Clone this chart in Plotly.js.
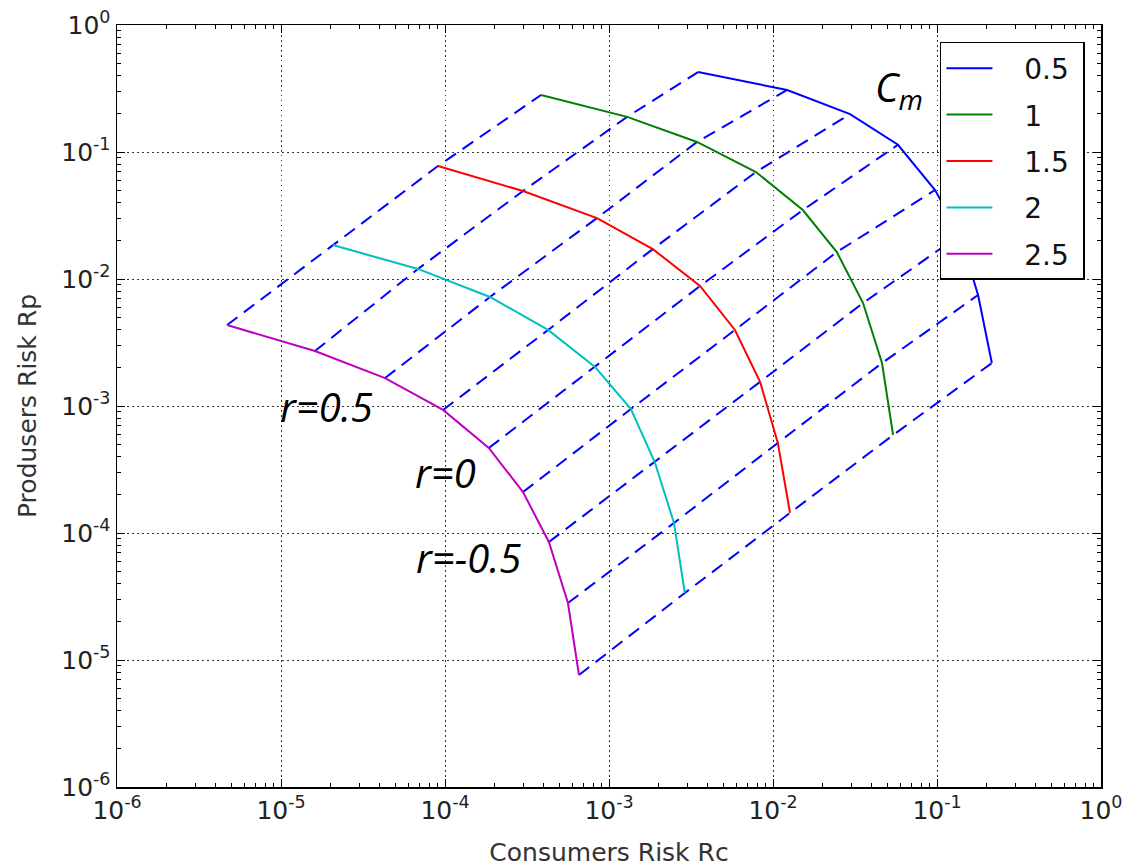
<!DOCTYPE html>
<html>
<head>
<meta charset="utf-8">
<script src="https://cdn.plot.ly/plotly-3.0.1.min.js"></script>
<style>html,body{margin:0;padding:0;background:#fff;}#chart{width:1127px;height:868px;}</style>
</head>
<body>
<div id="chart"></div>
<script>
// Series labels (Cm values)
const cmLabels = ['0.5', '1', '1.5', '2', '2.5'];
const cmColors = ['#0000ff', '#008000', '#ff0000', '#00bfbf', '#bf00bf'];

// Cm = 0.5
const rc05 = [3.49e-3, 1.22e-2, 2.95e-2, 5.78e-2, 9.73e-2, 0.138, 0.178, 0.216];
const rp05 = [0.426, 0.308, 0.199, 0.114, 5.02e-2, 2.22e-2, 7.48e-3, 2.18e-3];
// Cm = 1
const rc10 = [3.85e-4, 1.29e-3, 3.44e-3, 7.87e-3, 1.52e-2, 2.45e-2, 3.54e-2, 4.62e-2, 5.40e-2];
const rp10 = [0.281, 0.189, 0.120, 6.96e-2, 3.49e-2, 1.63e-2, 6.47e-3, 2.18e-3, 5.91e-4];
// Cm = 1.5
const rc15 = [9.06e-5, 2.99e-4, 8.45e-4, 1.85e-3, 3.59e-3, 5.86e-3, 8.34e-3, 1.07e-2, 1.27e-2];
const rp15 = [7.76e-2, 4.93e-2, 3.02e-2, 1.72e-2, 8.81e-3, 3.97e-3, 1.55e-3, 5.12e-4, 1.44e-4];
// Cm = 2
const rc20 = [2.07e-5, 6.84e-5, 1.88e-4, 4.25e-4, 8.22e-4, 1.36e-3, 1.90e-3, 2.49e-3, 2.90e-3];
const rp20 = [1.85e-2, 1.20e-2, 7.22e-3, 3.97e-3, 2.03e-3, 9.47e-4, 3.62e-4, 1.20e-4, 3.37e-5];
// Cm = 2.5
const rc25 = [4.69e-6, 1.61e-5, 4.31e-5, 9.73e-5, 1.85e-4, 2.99e-4, 4.30e-4, 5.62e-4, 6.56e-4];
const rp25 = [4.34e-3, 2.71e-3, 1.66e-3, 9.31e-4, 4.67e-4, 2.10e-4, 8.50e-5, 2.81e-5, 7.62e-6];

// Axis tick labels
const tickVals = [1e-6, 1e-5, 1e-4, 1e-3, 1e-2, 1e-1, 1];
const tickText = ['10<sup>-6</sup>', '10<sup>-5</sup>', '10<sup>-4</sup>', '10<sup>-3</sup>', '10<sup>-2</sup>', '10<sup>-1</sup>', '10<sup>0</sup>'];

// Text labels
const rLabels = ['r=0.5', 'r=0', 'r=-0.5'];
const xTitle = 'Consumers Risk Rc';
const yTitle = 'Produsers Risk Rp';

const series = [[rc05, rp05], [rc10, rp10], [rc15, rp15], [rc20, rp20], [rc25, rp25]];

const minorVals = [];
for (let e = -6; e < 0; e++) for (let m = 2; m <= 9; m++) minorVals.push(m * Math.pow(10, e));

const traces = [];
// dashed connecting lines: point i on each curve (blue curve is offset by one)
const nLines = rc25.length;
for (let i = 0; i < nLines; i++) {
  const xs = [rc25[i], rc20[i], rc15[i], rc10[i]];
  const ys = [rp25[i], rp20[i], rp15[i], rp10[i]];
  if (i >= 1) { xs.push(rc05[i - 1]); ys.push(rp05[i - 1]); }
  traces.push({x: xs, y: ys, mode: 'lines', type: 'scatter', showlegend: false, hoverinfo: 'skip',
    line: {color: '#0000ff', width: 2, dash: '13px,8px'}});
}
const pad = '\u00a0\u00a0\u00a0';
series.forEach((s, k) => {
  traces.push({x: s[0], y: s[1], mode: 'lines', type: 'scatter', name: pad + cmLabels[k] + '\u00a0',
    legendgroup: 'g' + k, line: {color: cmColors[k], width: 2}});
});

const axisCommon = {
  type: 'log', range: [-6, 0], tickmode: 'array', tickvals: tickVals, ticktext: tickText,
  showline: true, linecolor: '#000', linewidth: 1.5, mirror: 'ticks',
  ticks: 'inside', ticklen: 8, tickwidth: 1, tickcolor: '#000',
  showgrid: true, gridcolor: '#333', gridwidth: 1, griddash: '1.5px,3.5px',
  minor: {tickmode: 'array', tickvals: minorVals, ticks: 'inside', ticklen: 4, tickcolor: '#000', showgrid: false},
  tickfont: {family: 'DejaVu Sans', size: 25, color: '#222'}, zeroline: false
};

const itFont = {family: 'Open Sans', size: 40, color: '#000', style: 'italic'};
const layout = {
  width: 1127, height: 868,
  margin: {l: 117, r: 26, t: 25, b: 81},
  paper_bgcolor: '#fff', plot_bgcolor: '#fff',
  xaxis: Object.assign({}, axisCommon, {title: {text: xTitle, font: {family: 'DejaVu Sans', size: 25, color: '#333'}, standoff: 20}}),
  yaxis: Object.assign({}, axisCommon, {title: {text: yTitle, font: {family: 'DejaVu Sans', size: 25, color: '#333'}, standoff: 17}}),
  legend: {x: 0.9837, y: 0.9777, xanchor: 'right', yanchor: 'top', bgcolor: '#fff', bordercolor: '#000', borderwidth: 1.5,
    font: {family: 'DejaVu Sans', size: 28, color: '#111'}, traceorder: 'grouped', tracegroupgap: 7, itemwidth: 46},
  annotations: [
    {x: -4.72, y: -3.0, xref: 'x', yref: 'y', text: rLabels[0], showarrow: false, font: itFont},
    {x: -4.0, y: -3.52, xref: 'x', yref: 'y', text: rLabels[1], showarrow: false, font: itFont},
    {x: -3.854, y: -4.19, xref: 'x', yref: 'y', text: rLabels[2], showarrow: false, font: itFont},
    {x: -1.39, y: -0.5, xref: 'x', yref: 'y', xanchor: 'left', text: 'C<sub>m</sub>', showarrow: false, font: itFont}
  ]
};

Plotly.newPlot('chart', traces, layout, {displayModeBar: false, staticPlot: true});
</script>
</body>
</html>
